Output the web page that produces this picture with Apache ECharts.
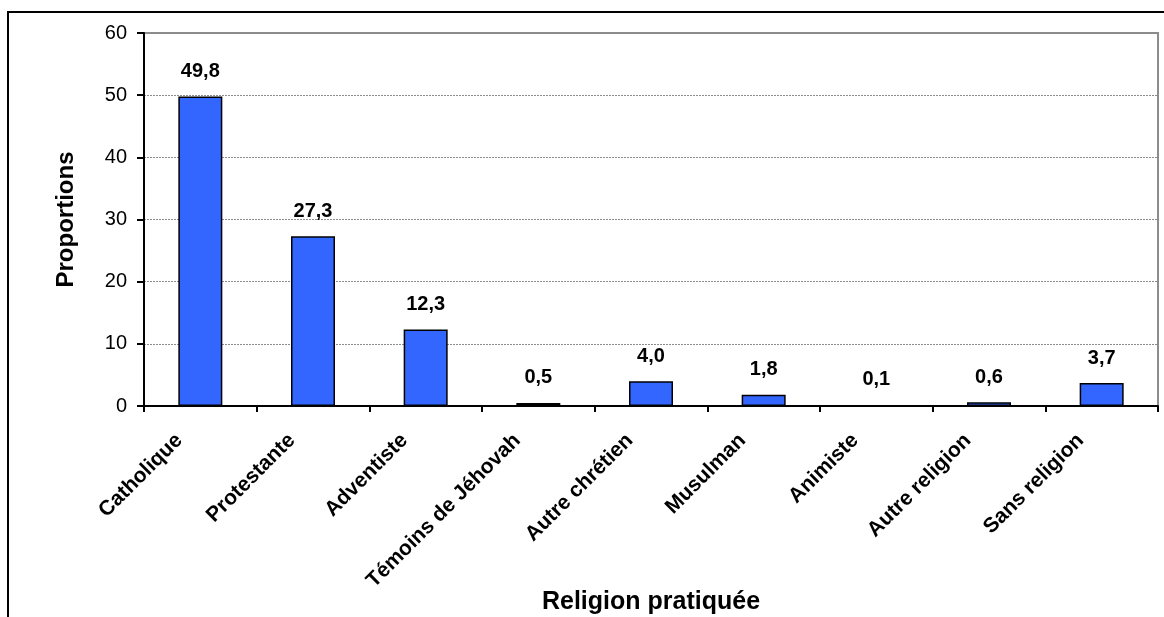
<!DOCTYPE html>
<html>
<head>
<meta charset="utf-8">
<script src="https://cdn.jsdelivr.net/npm/echarts@6/dist/echarts.min.js"></script>
<style>
  html, body { margin: 0; padding: 0; background: #fff; }
  #box { width: 1164px; height: 617px; }
</style>
</head>
<body>
<div id="box"></div>
<script>
// religions et proportions (%)
let categories = ["Catholique", "Protestante", "Adventiste", "Témoins de Jéhovah",
  "Autre chrétien", "Musulman", "Animiste", "Autre religion", "Sans religion"];
let proportions = [49.8, 27.3, 12.3, 0.5, 4.0, 1.8, 0.1, 0.6, 3.7];
let yTicks = [0, 10, 20, 30, 40, 50, 60];

let font = "Liberation Sans, Arial, sans-serif";
let fmt = v => v.toFixed(1).replace(".", ",");

let chart = echarts.init(document.getElementById("box"), null, { renderer: "canvas" });
let option = {
  animation: false,
  graphic: [{
    type: "rect",
    shape: { x: 8, y: 12, width: 1162, height: 700 },
    style: { fill: "none", stroke: "#000", lineWidth: 2 },
    z: 0
  }],
  grid: {
    left: 144, right: 6, top: 33, bottom: 211,
    outerBoundsMode: "none",
    containLabel: false,
    show: true, borderColor: "#8c8c8c", borderWidth: 2
  },
  xAxis: {
    type: "category",
    data: categories,
    name: "Religion pratiquée",
    nameLocation: "middle",
    nameGap: 184,
    nameMoveOverlap: false,
    nameTextStyle: { fontFamily: font, fontSize: 25, fontWeight: "bold", color: "#000" },
    axisLine: { lineStyle: { color: "#000", width: 2 } },
    axisTick: { show: true, length: 6, lineStyle: { color: "#000", width: 2 } },
    axisLabel: {
      rotate: 45, interval: 0, margin: 10, padding: [0, 30, 0, 0],
      fontFamily: font, fontSize: 21, fontWeight: "bold", color: "#000"
    }
  },
  yAxis: {
    type: "value",
    min: yTicks[0], max: yTicks[yTicks.length - 1], interval: 10,
    name: "Proportions",
    nameLocation: "middle",
    nameGap: 66,
    nameMoveOverlap: false,
    nameTextStyle: { fontFamily: font, fontSize: 24, fontWeight: "bold", color: "#000" },
    axisLine: { show: true, lineStyle: { color: "#000", width: 2 } },
    axisTick: { show: true, length: 7, lineStyle: { color: "#000", width: 2 } },
    axisLabel: { margin: 17, fontFamily: font, fontSize: 20, color: "#000" },
    splitLine: { show: true, lineStyle: { color: "#8c8c8c", type: [2, 1], width: 1 } }
  },
  series: [{
    type: "bar",
    data: proportions,
    barWidth: 44,
    itemStyle: { color: "#3366ff", borderColor: "#000", borderWidth: 1.5 },
    label: {
      show: true, position: "top", distance: 15,
      formatter: p => fmt(p.value),
      fontFamily: font, fontSize: 20, fontWeight: "bold", color: "#000"
    }
  }]
};
chart.setOption(option);
</script>
</body>
</html>
